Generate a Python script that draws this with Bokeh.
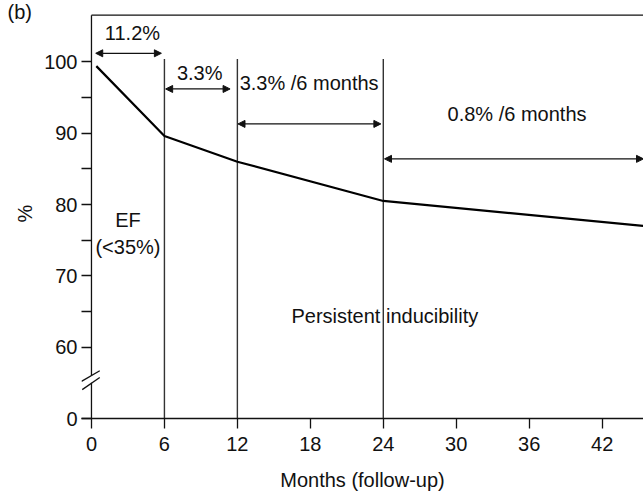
from bokeh.plotting import figure
from bokeh.models import (Arrow, NormalHead, FixedTicker,
                          ColumnDataSource, Range1d)
from bokeh.core.properties import value
from bokeh.embed import file_html
from bokeh.resources import INLINE

FONT = "Liberation Sans"
INK = "#111111"

# Event-free survival curve (%), months of follow-up
months = [0.4, 6, 12, 24, 45.4]
survival = [99.4, 89.6, 86.0, 80.5, 77.0]

# Interval boundaries (months)
boundaries = [6, 12, 24]
boundary_top = 100.4

# Rate intervals: start, end, arrow level, label
interval_start = [0.35, 6.1, 12.05, 24.1]
interval_end = [5.75, 11.4, 23.8, 45.4]
interval_level = [101.2, 96.2, 91.3, 86.4]
interval_text = ["11.2%", "3.3%", "3.3% /6 months", "0.8% /6 months"]
interval_text_x = [3.37, 8.9, 17.9, 35.0]
interval_text_y = [104.0, 98.5, 97.1, 92.7]

# Axis ticks (the bottom tick stands for 0 across the axis break)
x_ticks = [0, 6, 12, 18, 24, 30, 36, 42]
y_ticks = [50, 60, 70, 80, 90, 100]
y_tick_labels = ["0", "60", "70", "80", "90", "100"]
y_minor_ticks = [65, 75, 85, 95]

# Axis extents and the break in the y axis
X_MIN, X_MAX = -0.82, 45.4
Y_MIN, Y_MAX = 50, 107.48
Y_TOP_EDGE = 106.55
break_low, break_high = 55.0, 56.05

p = figure(width=643, height=493, output_backend="svg", toolbar_location=None,
           x_range=Range1d(X_MIN, X_MAX), y_range=Range1d(Y_MIN, Y_MAX),
           min_border_left=81, min_border_right=0, min_border_top=8,
           min_border_bottom=74)
p.outline_line_color = None
p.xgrid.visible = False
p.ygrid.visible = False
p.background_fill_color = "white"
p.border_fill_color = "white"

# Panel letter
p.title.text = "(b)"
p.title.align = "left"
p.title.offset = -74
p.title.standoff = -28
p.title.text_font = FONT
p.title.text_font_size = "20px"
p.title.text_font_style = "normal"
p.title.text_color = INK

for ax in (p.xaxis[0], p.yaxis[0]):
    ax.axis_line_width = 1.3
    ax.axis_line_color = INK
    ax.major_tick_line_width = 1.3
    ax.major_tick_line_color = INK
    ax.minor_tick_line_width = 1.3
    ax.minor_tick_line_color = INK
    ax.major_label_text_font = FONT
    ax.major_label_text_font_size = "20px"
    ax.major_label_text_color = INK
    ax.axis_label_text_font = FONT
    ax.axis_label_text_font_size = "20px"
    ax.axis_label_text_font_style = "normal"
    ax.axis_label_text_color = INK

p.xaxis.ticker = FixedTicker(ticks=x_ticks)
p.xaxis.major_tick_in = 0
p.xaxis.major_tick_out = 10
p.xaxis.minor_tick_line_color = None
p.xaxis.major_label_standoff = 8
p.xaxis.axis_label = "Months (follow-up)"
p.xaxis.axis_label_standoff = 15

# y ticks run from the frame edge in to the axis line drawn at x = 0
p.yaxis.ticker = FixedTicker(ticks=y_ticks, minor_ticks=y_minor_ticks)
p.yaxis.major_label_overrides = {t: s for t, s in zip(y_ticks, y_tick_labels)}
p.yaxis.axis_line_color = None
p.yaxis.major_tick_in = 10
p.yaxis.major_tick_out = 0
p.yaxis.minor_tick_in = 10
p.yaxis.minor_tick_out = 0
p.yaxis.major_label_standoff = 4
p.yaxis.axis_label = "%"
p.yaxis.axis_label_standoff = 5

# y axis line, interrupted at the break
p.segment(x0=[0, 0], y0=[Y_MIN, break_high], x1=[0, 0], y1=[break_low, Y_TOP_EDGE],
          line_color=INK, line_width=1.3)

# Break marks
p.segment(x0=[-0.82, -0.76], y0=[55.2, 54.05], x1=[0.68, 0.68], y1=[56.7, 55.75],
          line_color=INK, line_width=1.3)

# Top frame edge
p.line(x=[0, X_MAX], y=[Y_TOP_EDGE, Y_TOP_EDGE], line_color=INK, line_width=1.3)

# Interval boundaries
p.segment(x0=boundaries, y0=[Y_MIN] * len(boundaries), x1=boundaries,
          y1=[boundary_top] * len(boundaries), line_color="#333333",
          line_width=1.4)

# Survival curve
p.line(months, survival, line_color="black", line_width=2.2)

# Interval arrows
for x0, x1, yv in zip(interval_start, interval_end, interval_level):
    p.add_layout(Arrow(x_start=x0, y_start=yv, x_end=x1, y_end=yv,
                       line_color=INK, line_width=1.3,
                       start=NormalHead(size=7, fill_color=INK, line_color=INK),
                       end=NormalHead(size=7, fill_color=INK, line_color=INK)))

src = ColumnDataSource(dict(x=interval_text_x, y=interval_text_y,
                            t=interval_text))
p.text(x="x", y="y", text="t", source=src, text_font=value(FONT),
       text_font_size="20px", text_align="center", text_baseline="middle",
       text_color=INK)

# Region labels
p.text(x=[3.0, 3.0], y=[77.8, 74.0], text=["EF", "(<35%)"],
       text_font=value(FONT), text_font_size="20px", text_align="center",
       text_baseline="middle", text_color=INK)
p.text(x=[16.45], y=[64.4], text=["Persistent inducibility"],
       text_font=value(FONT), text_font_size="20px", text_align="left",
       text_baseline="middle", text_color=INK)

open("out.html", "w").write(file_html(p, INLINE))
